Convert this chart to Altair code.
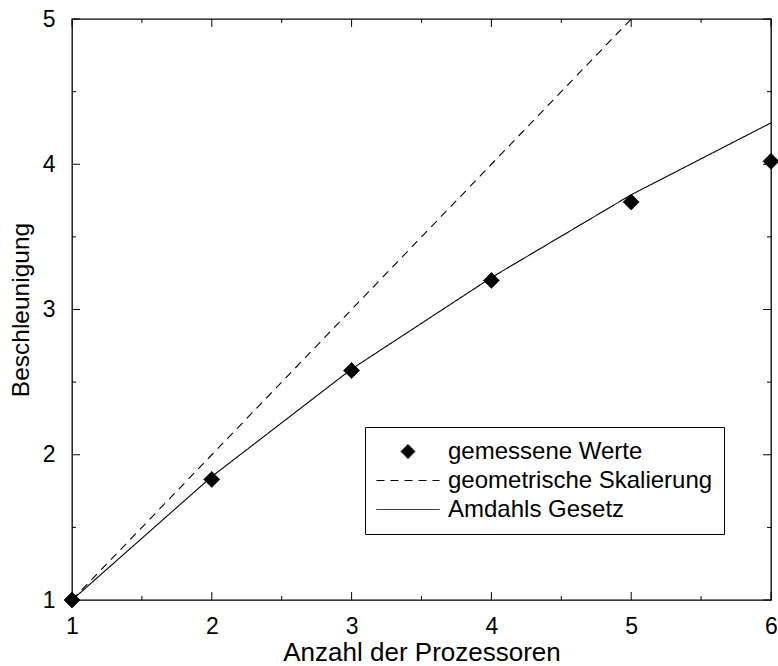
import altair as alt
import pandas as pd

# ---- data ----
procs = [1, 2, 3, 4, 5, 6]
gemessen = [1.0, 1.83, 2.58, 3.20, 3.74, 4.02]
geo_procs = [1, 2, 3, 4, 5]
geo_speedup = [1, 2, 3, 4, 5]
amdahl_speedup = [1.0, 1.85, 2.59, 3.22, 3.79, 4.285]
series = ["gemessene Werte", "geometrische Skalierung", "Amdahls Gesetz"]
x_major = [1, 2, 3, 4, 5, 6]
x_minor = [1.5, 2.5, 3.5, 4.5, 5.5]
y_major = [1, 2, 3, 4, 5]
y_minor = [1.5, 2.5, 3.5, 4.5]

W, H = 699, 581
FONT = "Liberation Sans"

pts = pd.DataFrame({"n": procs, "s": gemessen, "series": series[0]})
lines = pd.concat([
    pd.DataFrame({"n": geo_procs, "s": geo_speedup, "series": series[1]}),
    pd.DataFrame({"n": procs, "s": amdahl_speedup, "series": series[2]}),
], ignore_index=True)

xs = alt.Scale(domain=[1, 6], nice=False, zero=False)
ys = alt.Scale(domain=[1, 5], nice=False, zero=False)

xenc = alt.X("n:Q", scale=xs, title="Anzahl der Prozessoren",
             axis=alt.Axis(values=x_major, format="d", labelPadding=15,
                           titlePadding=1, titleFontSize=26))
yenc = alt.Y("s:Q", scale=ys, title="Beschleunigung",
             axis=alt.Axis(values=y_major, format="d", labelPadding=17,
                           titlePadding=9, titleFontSize=24.5))

leg = alt.Legend(title=None, orient="none", legendX=293, legendY=408,
                 strokeColor="black", fillColor="white", padding=11,
                 labelFont=FONT, labelFontSize=24, labelColor="black", labelLimit=500,
                 symbolSize=196, symbolStrokeWidth=1,
                 symbolOffset=20, labelOffset=28, clipHeight=27, rowPadding=2)

STROKE_PATH = "M-4.5,0L4.5,0"
shape = alt.Shape("series:N",
                  scale=alt.Scale(domain=series, range=["diamond", STROKE_PATH, STROKE_PATH]),
                  legend=leg)
dash = alt.StrokeDash("series:N",
                      scale=alt.Scale(domain=series, range=[[1, 0], [8, 6], [1, 0]]),
                      legend=leg)
fill = alt.Fill("series:N",
                scale=alt.Scale(domain=series, range=["black", "transparent", "transparent"]),
                legend=leg)
stroke = alt.Stroke("series:N",
                    scale=alt.Scale(domain=series, range=["black", "black", "black"]),
                    legend=leg)

line_layer = alt.Chart(lines).mark_line(strokeWidth=1.1).encode(
    x=xenc, y=yenc, strokeDash=dash, stroke=stroke)
point_layer = alt.Chart(pts).mark_point(
    filled=True, strokeWidth=1, size=250, opacity=1).encode(
    x=xenc, y=yenc, shape=shape, strokeDash=dash, fill=fill, stroke=stroke)


def xticks(vals, length, top):
    df = pd.DataFrame({"n": vals})
    y0, y1 = (0, length) if top else (H, H - length)
    return alt.Chart(df).mark_rule(color="black", strokeWidth=1).encode(
        x=xenc, y=alt.value(y0), y2=alt.value(y1))


def yticks(vals, length, right):
    df = pd.DataFrame({"s": vals})
    x0, x1 = (W, W - length) if right else (0, length)
    return alt.Chart(df).mark_rule(color="black", strokeWidth=1).encode(
        y=yenc, x=alt.value(x0), x2=alt.value(x1))


tick_layers = [
    xticks(x_major, 8, False), xticks(x_minor, 4, False),
    xticks(x_major, 8, True), xticks(x_minor, 4, True),
    yticks(y_major, 8, False), yticks(y_minor, 4, False),
    yticks(y_major, 8, True), yticks(y_minor, 4, True),
]

chart = alt.layer(line_layer, point_layer, *tick_layers).properties(
    width=W, height=H,
    autosize=alt.AutoSizeParams(type="none"),
    padding={"left": 72, "top": 19, "right": 7, "bottom": 66},
    background="white",
).configure_view(
    stroke="black", strokeWidth=1.3
).configure_axis(
    domain=False, ticks=False, tickSize=0, grid=False,
    labelFont=FONT, labelFontSize=23, labelColor="black",
    titleFont=FONT, titleColor="black", titleFontWeight="normal",
    labelFlush=False, labelOverlap=False,
)

chart.save("out.html", embed_options={"renderer": "svg", "actions": False})
